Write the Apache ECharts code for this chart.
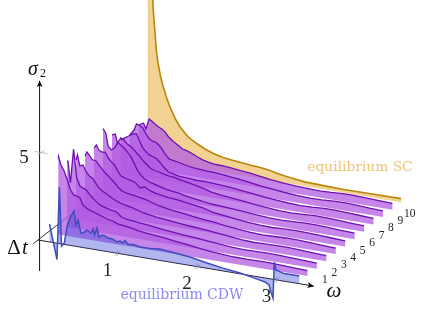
<!DOCTYPE html>
<html>
<head>
<meta charset="utf-8">
<style>html,body{margin:0;padding:0;background:#fff}#chart{width:425px;height:309px}</style>
<script src="https://cdn.jsdelivr.net/npm/echarts@6/dist/echarts.min.js"></script>
</head>
<body>
<div id="chart"></div>
<script>
// Pump-probe conductivity waterfall: sigma_2(omega) for successive delays.
const omegaGrid = [0.14,0.17,0.21,0.25,0.29,0.33,0.37,0.41,0.45,0.49,0.53,0.58,0.63,0.69,0.75,0.82,0.89,0.97,1.05,1.14,1.24,1.35,1.47,1.6,1.75,1.9,2.05,2.2,2.35,2.5,2.65,2.8,2.95,3.1,3.27];
const omegaStart = [0.137,0.129,0.123,0.117,0.111,0.105,0.10,0.093,0.086,0.08];

const delay1 = [4.31,4.43,3.97,3.66,3.18,2.64,2.39,2.36,2.28,1.88,1.77,1.68,1.61,1.53,1.44,1.34,1.28,1.16,1.11,1.06,0.98,0.91,0.86,0.81,0.73,0.65,0.55,0.49,0.43,0.39,0.38,0.40,0.40,0.37,0.34,0.31];
const delay2 = [3.74,3.75,2.53,4.49,2.87,2.45,2.36,2.28,2.08,1.89,1.74,1.60,1.50,1.43,1.36,1.32,1.06,0.99,0.97,0.92,0.88,0.81,0.75,0.70,0.65,0.60,0.54,0.48,0.42,0.39,0.40,0.42,0.41,0.38,0.35,0.32];
const delay3 = [3.38,3.68,3.08,3.16,2.80,2.60,2.49,2.26,2.01,1.87,1.78,1.67,1.54,1.44,1.34,1.27,1.21,1.12,1.01,0.96,0.89,0.85,0.79,0.74,0.69,0.64,0.57,0.50,0.43,0.39,0.41,0.43,0.42,0.39,0.35,0.32];
const delay4 = [3.18,3.43,3.28,3.03,3.03,2.81,2.61,2.41,2.27,2.10,1.93,1.73,1.55,1.47,1.43,1.39,1.33,1.27,1.16,1.05,0.98,0.91,0.85,0.77,0.70,0.64,0.54,0.47,0.42,0.39,0.41,0.44,0.43,0.40,0.36,0.33];
const delay5 = [3.22,3.41,3.15,3.06,3.09,2.78,2.59,2.44,2.14,1.88,1.82,1.77,1.72,1.65,1.38,1.48,1.31,1.22,1.16,1.11,1.07,1.00,0.94,0.86,0.70,0.61,0.53,0.46,0.41,0.39,0.42,0.44,0.43,0.40,0.36,0.33];
const delay6 = [3.90,3.67,2.95,2.76,2.90,3.24,3.13,2.99,2.80,2.60,2.28,1.91,1.61,1.43,1.30,1.23,1.14,1.05,1.00,0.95,0.85,0.78,0.72,0.64,0.61,0.56,0.50,0.44,0.40,0.39,0.42,0.45,0.44,0.41,0.37,0.34];
const delay7 = [3.11,3.19,2.70,3.02,2.93,2.74,2.65,2.51,2.32,2.15,1.95,1.78,1.59,1.49,1.45,1.38,1.32,1.28,1.20,1.13,1.05,0.95,0.81,0.73,0.67,0.59,0.51,0.45,0.40,0.38,0.41,0.45,0.44,0.41,0.37,0.34];
const delay8 = [2.40,2.55,2.63,2.77,2.86,2.89,2.49,2.15,1.96,1.82,1.76,1.70,1.52,1.27,1.03,0.97,0.90,0.87,0.85,0.82,0.84,0.82,0.79,0.75,0.68,0.60,0.52,0.46,0.41,0.38,0.40,0.45,0.45,0.42,0.38,0.34];
const delay9 = [2.26,2.58,2.95,2.89,2.78,2.47,2.22,2.13,2.10,1.97,1.77,1.51,1.27,1.22,1.18,1.11,1.05,0.99,0.97,0.94,0.93,0.89,0.83,0.78,0.70,0.60,0.52,0.46,0.41,0.38,0.39,0.44,0.45,0.42,0.38,0.35];
const delay10 = [2.40,2.56,2.24,2.84,2.73,2.59,2.48,2.39,2.26,2.03,1.89,1.74,1.61,1.45,1.39,1.29,1.14,1.02,0.94,0.89,0.875,0.84,0.78,0.73,0.65,0.54,0.48,0.43,0.40,0.37,0.40,0.45,0.45,0.42,0.39,0.36];

// Equilibrium superconductor, diverging towards omega = 0.
const scOmega = [0.074,0.137,0.144,0.153,0.166,0.182,0.203,0.237,0.27,0.313,0.354,0.417,0.48,0.584,0.69,0.794,0.899,1.021,1.15,1.36,1.511,1.612,1.7,1.8,1.9,2.05,2.3,2.555,2.9,3.26];
const scSigma = [20,9.12,8.56,8.0,7.27,6.32,5.6,4.83,4.28,3.69,3.21,2.63,2.17,1.68,1.39,1.16,0.98,0.85,0.77,0.68,0.62,0.55,0.47,0.38,0.32,0.24,0.20,0.17,0.19,0.20];

// Equilibrium charge density wave, with the resonance just below omega = 3.
const cdwOmega = [0.145,0.239,0.269,0.296,0.331,0.365,0.403,0.453,0.478,0.503,0.541,0.566,0.616,0.667,0.692,0.711,0.742,0.767,0.818,0.881,0.931,0.969,0.994,1.031,1.063,1.094,1.132,1.195,1.283,1.409,1.535,1.698,1.912,2.126,2.327,2.541,2.755,2.855,2.906,2.931,2.956,2.972,2.994,3.094,3.195,3.287];
const cdwSigma = [1.02,-0.93,3.22,-0.12,0.08,1.02,1.56,1.99,1.22,1.52,0.81,0.82,1.03,0.90,1.15,0.82,1.24,0.75,0.90,0.78,0.76,0.70,0.64,0.72,0.63,0.80,0.60,0.65,0.57,0.58,0.65,0.57,0.48,0.30,0.16,0.05,-0.14,-0.23,-0.36,-0.74,-1.06,0.99,0.56,0.43,0.44,0.44];

const delayTickLabels = ['1','2','3','4','5','6','7','8','9','10'];
const omegaTickLabels = ['1','2','3'];
const sigmaTickLabel = '5';
const legendSC = 'equilibrium SC';
const legendCDW = 'equilibrium CDW';

const delays = [delay1,delay2,delay3,delay4,delay5,delay6,delay7,delay8,delay9,delay10];
const SC_DELAY = 11;

// Oblique projection of (omega, delay, sigma) onto the page plane.
function project(omega, delay, sigma) {
  return [38 + 79.5 * omega + 9.44 * delay, 240 + 13.3 * omega - 7.38 * delay - 17.6 * sigma];
}

function areaSeries(omegas, sigmas, delay, fill) {
  return {
    type: 'custom', coordinateSystem: 'cartesian2d', silent: true, data: [0],
    renderItem: function (params, api) {
      const top = omegas.map((w, i) => api.coord(project(w, delay, sigmas[i])));
      const lastW = omegas[omegas.length - 1];
      const area = top.concat([api.coord(project(lastW, delay, 0)), api.coord(project(omegas[0], delay, 0))]);
      return { type: 'polygon', shape: { points: area }, style: { fill: fill, stroke: null } };
    }
  };
}

function curveSeries(omegas, sigmas, delay, stroke, width) {
  return {
    type: 'custom', coordinateSystem: 'cartesian2d', silent: true, data: [0],
    renderItem: function (params, api) {
      const line = omegas.map((w, i) => api.coord(project(w, delay, sigmas[i])));
      return { type: 'polyline', shape: { points: line }, style: { fill: null, stroke: stroke, lineWidth: width, lineJoin: 'miter', miterLimit: 6 } };
    }
  };
}

function segment(api, a, b, color, width) {
  const p = api.coord(a), q = api.coord(b);
  return { type: 'line', shape: { x1: p[0], y1: p[1], x2: q[0], y2: q[1] }, style: { stroke: color, lineWidth: width } };
}

function arrowHead(api, tip, from) {
  const t = api.coord(tip), f = api.coord(from);
  const d = Math.hypot(t[0] - f[0], t[1] - f[1]);
  const ux = (t[0] - f[0]) / d, uy = (t[1] - f[1]) / d;
  const L = 6.5, W = 3;
  return { type: 'polygon', shape: { points: [
    t,
    [t[0] - L * ux - W * uy, t[1] - L * uy + W * ux],
    [t[0] - 0.7 * L * ux, t[1] - 0.7 * L * uy],
    [t[0] - L * ux + W * uy, t[1] - L * uy - W * ux]
  ] }, style: { fill: '#000' } };
}

const axesSeries = {
  type: 'custom', coordinateSystem: 'cartesian2d', silent: true, data: [0],
  renderItem: function (params, api) {
    const grey = '#a8a8a8';
    const kids = [];
    const sigmaLow = project(0.02, 0, -1.76), sigmaTop = project(0.02, 0, 9.05);
    sigmaLow[1] -= 0.27; sigmaTop[1] -= 0.27;
    kids.push(segment(api, sigmaLow, sigmaTop, '#111', 1));
    kids.push(arrowHead(api, sigmaTop, sigmaLow));
    const omegaEnd = project(3.47, 0, 0);
    kids.push(segment(api, project(0, 0, 0), omegaEnd, '#222', 1));
    kids.push(arrowHead(api, omegaEnd, project(0, 0, 0)));
    kids.push(segment(api, project(0, -0.5, 0), project(0, 11, 0), '#222', 0.9));
    [1, 2, 3].forEach(w => {
      kids.push(segment(api, project(w, -0.35, 0), project(w, 0.35, 0), grey, 0.7));
      kids.push(segment(api, project(w, 0, 0.18), project(w, 0, -0.18), grey, 0.7));
    });
    kids.push(segment(api, project(0.04, -0.35, 5), project(0.04, 0.35, 5), grey, 0.7));
    kids.push(segment(api, project(-0.04, 0, 5), project(0.12, 0, 5), grey, 0.7));
    return { type: 'group', children: kids };
  }
};

function textEl(api, pos, text, font, color, align) {
  const c = api.coord(pos);
  return { type: 'text', style: { x: c[0], y: c[1], text: text, font: font, fill: color, align: align || 'center', verticalAlign: 'middle' } };
}

const labelSeries = {
  type: 'custom', coordinateSystem: 'cartesian2d', silent: true, data: [0],
  renderItem: function (params, api) {
    const kids = [];
    const num = '19px "Liberation Serif"';
    kids.push(textEl(api, [24, 158], sigmaTickLabel, num, '#222'));
    omegaTickLabels.forEach((s, i) => {
      const p = project(i + 1, 0, 0);
      kids.push(textEl(api, [p[0] - 10, p[1] + 17.5], s, num, '#222'));
    });
    delayTickLabels.forEach((s, i) => {
      const p = project(3.27, i + 1, 0);
      kids.push(textEl(api, [p[0] + 17.5, p[1] + 4], s, '11.5px "Liberation Serif"', '#222'));
    });
    kids.push(textEl(api, [334, 291], 'ω', 'italic 21px "Liberation Serif"', '#111'));
    kids.push(textEl(api, [33, 70], 'σ', 'italic 20px "Liberation Serif"', '#111'));
    kids.push(textEl(api, [43, 74], '2', '12px "Liberation Serif"', '#111'));
    kids.push(textEl(api, [14, 248], 'Δ', '21px "Liberation Serif"', '#111'));
    kids.push(textEl(api, [25, 248], 't', 'italic 21px "Liberation Serif"', '#111'));
    kids.push(textEl(api, [360, 167], legendSC, '13.8px "DejaVu Serif"', '#f0c271'));
    kids.push(textEl(api, [182, 295], legendCDW, '14px "DejaVu Serif"', '#8a8af0'));
    return { type: 'group', children: kids };
  }
};

const purpleFill = 'rgba(178,92,225,0.75)';
const purpleLine = '#6f10b0';
const series = [axesSeries];
// Fills go back to front; every curve is stroked above all of them.
series.push(areaSeries(scOmega, scSigma, SC_DELAY, 'rgba(230,165,40,0.5)'));
for (let k = delays.length; k >= 1; k--) {
  series.push(areaSeries([omegaStart[k - 1]].concat(omegaGrid), delays[k - 1], k, purpleFill));
}
series.push(areaSeries(cdwOmega, cdwSigma, 0, 'rgba(70,80,215,0.42)'));
series.push(curveSeries(scOmega, scSigma, SC_DELAY, '#b8860b', 1.6));
for (let k = delays.length; k >= 1; k--) {
  series.push(curveSeries([omegaStart[k - 1]].concat(omegaGrid), delays[k - 1], k, purpleLine, 1.3));
}
series.push(curveSeries(cdwOmega, cdwSigma, 0, '#3f4cc0', 1.5));
series.push(labelSeries);

const chart = echarts.init(document.getElementById('chart'), null, { renderer: 'canvas' });
chart.setOption({
  animation: false,
  backgroundColor: '#fff',
  grid: { left: 0, right: 0, top: 0, bottom: 0 },
  xAxis: { type: 'value', min: 0, max: 425, show: false },
  yAxis: { type: 'value', min: 0, max: 309, inverse: true, show: false },
  series: series
});
</script>
</body>
</html>
